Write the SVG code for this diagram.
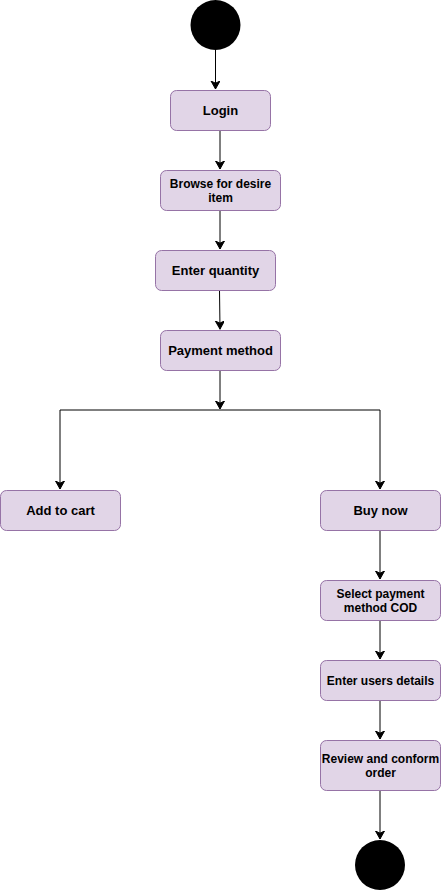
<svg xmlns="http://www.w3.org/2000/svg" width="441" height="891" viewBox="0 0 441 891">
<defs>
<marker id="arr" markerWidth="10" markerHeight="10" refX="8" refY="4.5" orient="auto" markerUnits="userSpaceOnUse">
<path d="M0,0 L8,4.5 L0,9 L2.2,4.5 Z" fill="#000" stroke="#000" stroke-width="1"/>
</marker>
</defs>
<style>
.box{fill:#e1d5e7;stroke:#9673a6;stroke-width:1}
.t{font-family:"Liberation Sans",Arial,sans-serif;font-weight:bold;font-size:13px;fill:#000;text-anchor:middle}
.s{font-size:12px}
.c{fill:none;stroke:#000;stroke-width:1;marker-end:url(#arr)}
</style>
<rect width="441" height="891" fill="#fff"/>
<g id="connectors">
<path class="c" d="M215.5,50 V89"/>
<path class="c" d="M220,130 V169"/>
<path class="c" d="M220,210 V249"/>
<path class="c" d="M219.5,290 L220,329"/>
<path class="c" d="M220,370 V409"/>
<path class="c" d="M220,410 H60 V489"/>
<path class="c" d="M220,410 H380 V489"/>
<path class="c" d="M380,530 V579"/>
<path class="c" d="M380,620 V659"/>
<path class="c" d="M380,700 V739"/>
<path class="c" d="M380,790 V839"/>
</g>
<g id="start"><circle cx="215.5" cy="25" r="25" fill="#000"/></g>
<g id="login"><rect class="box" x="170.5" y="90.5" width="100" height="40" rx="6"/><text class="t" x="220.5" y="115">Login</text></g>
<g id="browse"><rect class="box" x="160.5" y="170.5" width="120" height="40" rx="6"/><text class="t s" x="220.5" y="187.5">Browse for desire</text><text class="t s" x="220.5" y="201.5">item</text></g>
<g id="quantity"><rect class="box" x="155.5" y="250.5" width="120" height="40" rx="6"/><text class="t" x="215.5" y="275">Enter quantity</text></g>
<g id="payment"><rect class="box" x="160.5" y="330.5" width="120" height="40" rx="6"/><text class="t" x="220.5" y="355">Payment method</text></g>
<g id="cart"><rect class="box" x="0.5" y="490.5" width="120" height="40" rx="6"/><text class="t" x="60.5" y="515">Add to cart</text></g>
<g id="buynow"><rect class="box" x="320.5" y="490.5" width="120" height="40" rx="6"/><text class="t" x="380.5" y="515">Buy now</text></g>
<g id="cod"><rect class="box" x="320.5" y="580.5" width="120" height="40" rx="6"/><text class="t s" x="380.5" y="597.5">Select payment</text><text class="t s" x="380.5" y="611.5">method COD</text></g>
<g id="details"><rect class="box" x="320.5" y="660.5" width="120" height="40" rx="6"/><text class="t s" x="380.5" y="684.5">Enter users details</text></g>
<g id="review"><rect class="box" x="320.5" y="740.5" width="120" height="50" rx="6"/><text class="t s" x="380.5" y="762.5">Review and conform</text><text class="t s" x="380.5" y="776.5">order</text></g>
<g id="end"><circle cx="380" cy="865" r="25" fill="#000"/></g>
</svg>
